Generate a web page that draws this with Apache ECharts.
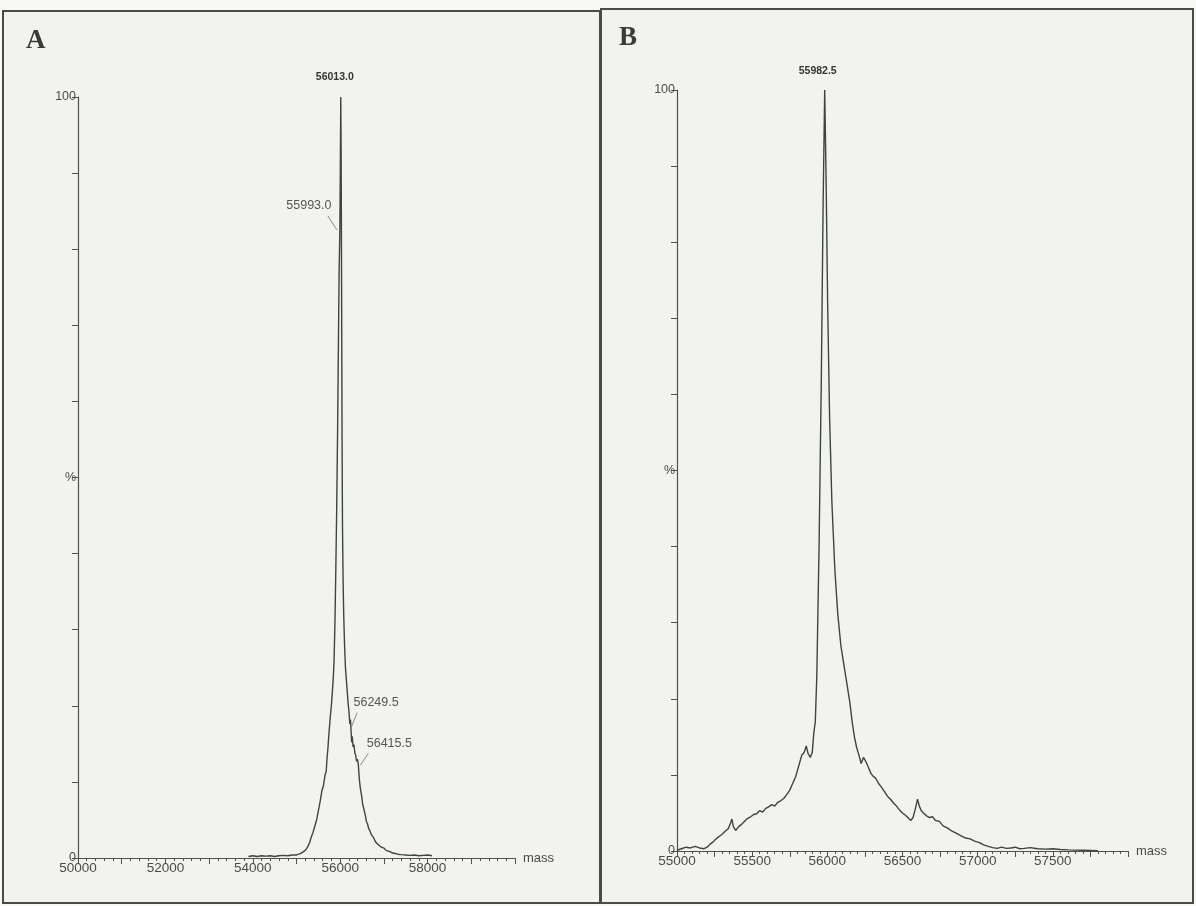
<!DOCTYPE html>
<html>
<head>
<meta charset="utf-8">
<script src="https://cdn.jsdelivr.net/npm/echarts@6/dist/echarts.min.js"></script>
<style>
  html, body { margin: 0; padding: 0; background: #f8f8f5; }
  #chart { width: 1196px; height: 906px; }
</style>
</head>
<body>
<div id="chart"></div>
<script>
// panel A spectrum (mass, % intensity)
var massA = [53900, 54000, 54100, 54200, 54300, 54400, 54500, 54600, 54700, 54800, 54900,
  55000, 55050, 55100, 55150, 55200, 55250, 55300, 55340, 55380, 55420, 55460, 55500, 55540,
  55580, 55620, 55650, 55680, 55700, 55720, 55740, 55760, 55780, 55800, 55820, 55840, 55860,
  55880, 55900, 55920, 55940, 55960, 55975, 55985, 55993, 56003, 56013, 56022, 56032, 56042,
  56052, 56065, 56080, 56100, 56120, 56140, 56160, 56180, 56200, 56220, 56235, 56249.5, 56262,
  56275, 56295, 56315, 56335, 56355, 56375, 56395, 56415.5, 56435, 56455, 56475, 56495, 56515,
  56535, 56555, 56575, 56600, 56625, 56650, 56680, 56710, 56740, 56770, 56800, 56840, 56880,
  56920, 56960, 57000, 57050, 57100, 57150, 57200, 57260, 57320, 57400, 57500, 57600, 57700,
  57800, 57900, 58000, 58100];
var intA = [0.2, 0.3, 0.2, 0.3, 0.25, 0.3, 0.2, 0.3, 0.35, 0.3, 0.4,
  0.4, 0.5, 0.6, 0.8, 1.0, 1.4, 2.0, 2.8, 3.4, 4.2, 5.0, 6.2, 7.4,
  8.8, 9.6, 10.8, 11.4, 13.2, 14.5, 16.2, 17.6, 19.0, 20.2, 21.8, 23.5, 26,
  31, 38, 46, 56, 68, 77, 80, 83, 91, 100, 92, 75, 56,
  44, 37, 32, 28, 25, 23.5, 22.0, 20.4, 19.3, 17.6, 18.2, 16.6, 15.2,
  16.0, 14.6, 14.9, 13.8, 13.5, 12.7, 13.0, 12.2, 10.6, 9.4, 8.7, 8.0, 7.0,
  6.6, 6.1, 5.6, 4.8, 4.5, 3.9, 3.6, 3.1, 2.9, 2.6, 2.2, 1.9, 1.7,
  1.5, 1.4, 1.3, 1.0, 0.9, 0.8, 0.65, 0.6, 0.5, 0.45, 0.4, 0.35, 0.4,
  0.3, 0.35, 0.4, 0.3];

// panel B spectrum
var massB = [55000, 55030, 55060, 55090, 55120, 55150, 55180, 55200, 55220, 55240, 55260,
  55280, 55300, 55320, 55340, 55355, 55365, 55375, 55390, 55410, 55430, 55450, 55470, 55490,
  55510, 55530, 55550, 55570, 55590, 55610, 55630, 55650, 55670, 55690, 55710, 55730, 55750,
  55770, 55790, 55810, 55830, 55845, 55860, 55872, 55887, 55900, 55910, 55920, 55930, 55945,
  55960, 55972, 55982.5, 55992, 56002, 56015, 56030, 56050, 56070, 56090, 56110, 56130, 56150,
  56165, 56180, 56195, 56210, 56225, 56240, 56255, 56275, 56290, 56305, 56320, 56340, 56360,
  56380, 56400, 56420, 56440, 56460, 56480, 56500, 56520, 56540, 56555, 56570, 56585, 56600,
  56612, 56625, 56640, 56660, 56680, 56700, 56720, 56745, 56770, 56800, 56830, 56860, 56890,
  56920, 56950, 56980, 57012, 57040, 57070, 57100, 57130, 57160, 57190, 57220, 57250, 57280,
  57310, 57350, 57400, 57450, 57500, 57550, 57600, 57700, 57800];
var intB = [0.1, 0.3, 0.5, 0.4, 0.6, 0.4, 0.3, 0.5, 0.9, 1.2, 1.6,
  1.9, 2.2, 2.6, 2.9, 3.6, 4.2, 3.2, 2.7, 3.2, 3.5, 3.9, 4.3, 4.5,
  4.8, 4.9, 5.3, 5.1, 5.6, 5.8, 6.1, 5.9, 6.4, 6.6, 6.9, 7.4, 8.0,
  8.9, 9.8, 11.2, 12.6, 12.9, 13.8, 12.8, 12.3, 13.0, 15.5, 17, 23, 40,
  62, 85, 100, 88, 72, 57, 46, 37, 31, 27, 24.5, 22, 19.5,
  17.0, 15.0, 13.6, 12.6, 11.5, 12.3, 11.8, 10.9, 10.2, 9.8, 9.6, 8.9, 8.4,
  7.8, 7.2, 6.8, 6.3, 5.9, 5.4, 5.0, 4.7, 4.3, 4.0, 4.4, 5.5, 6.8,
  5.9, 5.3, 5.0, 4.6, 4.4, 4.5, 4.0, 3.9, 3.3, 3.0, 2.6, 2.3, 2.0,
  1.7, 1.6, 1.3, 1.1, 0.8, 0.6, 0.45, 0.35, 0.5, 0.35, 0.4, 0.5, 0.3,
  0.35, 0.45, 0.3, 0.25, 0.3, 0.2, 0.15, 0.1, 0.05];

// peak annotations
var annoMassA = [56013.0, 55993.0, 56249.5, 56415.5];
var annoIntA = [100, 82, 16.6, 12.2];
var annoTextA = ['56013.0', '55993.0', '56249.5', '56415.5'];
var annoMassB = [55982.5];
var annoIntB = [100];
var annoTextB = ['55982.5'];

// x tick labels
var ticksA = [50000, 52000, 54000, 56000, 58000];
var ticksB = [55000, 55500, 56000, 56500, 57000, 57500];

function pairs(xs, ys) {
  return xs.map(function (x, i) { return [x, ys[i]]; });
}

var chart = echarts.init(document.getElementById('chart'));
var lineCol = '#3c463b';
var axisCol = '#505050';
var txtCol = '#4a4a4a';

function xAxis(idx, min, max, step, ticks) {
  return {
    type: 'value', gridIndex: idx, min: min, max: max, interval: step,
    name: 'mass', nameLocation: 'end', nameGap: 8,
    nameTextStyle: { color: txtCol, fontSize: 13, fontFamily: 'Liberation Sans' },
    axisLine: { show: true, lineStyle: { color: axisCol, width: 1.2 } },
    axisTick: { show: true, length: 6, lineStyle: { color: axisCol } },
    minorTick: { show: true, splitNumber: 5, length: 3, lineStyle: { color: axisCol } },
    axisLabel: {
      color: txtCol, fontSize: 13.5, fontFamily: 'Liberation Sans', margin: 3,
      showMinLabel: true, showMaxLabel: false,
      formatter: function (v) { return ticks.indexOf(v) >= 0 ? String(v) : ''; }
    },
    splitLine: { show: false }
  };
}

function yAxis(idx) {
  return {
    type: 'value', gridIndex: idx, min: 0, max: 100, interval: 10,
    axisLine: { show: true, lineStyle: { color: axisCol, width: 1.2 } },
    axisTick: { show: true, length: 6, lineStyle: { color: axisCol } },
    axisLabel: {
      color: txtCol, fontSize: 12.5, fontFamily: 'Liberation Sans', margin: 2,
      formatter: function (v) { return v === 100 ? '100' : v === 50 ? '%' : v === 0 ? '0' : ''; }
    },
    splitLine: { show: false }
  };
}

// label placement relative to the anchor: [textDx, textDy, lineX, lineY, lineEndX, lineEndY]
var placeA = [[-6, -20], [-31, -28, -12, -18, -3, -4], [25, -29, 6, -19, 0, -4], [31, -22, 10, -12, 2, 0]];
var placeB = [[-7, -19]];

function annoSeries(idx, ms, vs, txt, place) {
  return {
    type: 'custom', xAxisIndex: idx, yAxisIndex: idx, z: 5, silent: true,
    data: pairs(ms, vs),
    renderItem: function (params, api) {
      var i = params.dataIndex;
      var pt = api.coord([api.value(0), api.value(1)]);
      var p = place[i];
      var top = p.length === 2;
      var kids = [{
        type: 'text',
        style: {
          x: pt[0] + p[0], y: pt[1] + p[1], text: txt[i],
          align: 'center', verticalAlign: 'middle',
          font: top ? 'bold 10.5px "Liberation Sans Narrow", "Liberation Sans"' : '12.5px "Liberation Sans"',
          fill: top ? '#333' : '#555'
        }
      }];
      if (!top) {
        kids.push({
          type: 'line',
          shape: { x1: pt[0] + p[2], y1: pt[1] + p[3], x2: pt[0] + p[4], y2: pt[1] + p[5] },
          style: { stroke: '#8a8a8a', lineWidth: 1 }
        });
      }
      return { type: 'group', children: kids };
    }
  };
}

var option = {
  backgroundColor: '#f8f8f5',
  animation: false,
  graphic: [
    { type: 'rect', z: -10, shape: { x: 3, y: 11, width: 597, height: 892 },
      style: { fill: '#f2f3ef', stroke: '#4a4a4a', lineWidth: 2 } },
    { type: 'rect', z: -10, shape: { x: 601, y: 9, width: 592, height: 894 },
      style: { fill: '#f2f3ef', stroke: '#4a4a4a', lineWidth: 2 } },
    { type: 'text', left: 26, top: 28, z: 10,
      style: { text: 'A', font: 'bold 27px "Liberation Serif"', fill: '#3a3a3a' } },
    { type: 'text', left: 619, top: 25, z: 10,
      style: { text: 'B', font: 'bold 27px "Liberation Serif"', fill: '#3a3a3a' } }
  ],
  grid: [
    { left: 78, top: 97, width: 437, height: 761 },
    { left: 677, top: 90, width: 451, height: 761 }
  ],
  xAxis: [xAxis(0, 50000, 60000, 1000, ticksA), xAxis(1, 55000, 58000, 250, ticksB)],
  yAxis: [yAxis(0), yAxis(1)],
  series: [
    { type: 'line', xAxisIndex: 0, yAxisIndex: 0, data: pairs(massA, intA), showSymbol: false,
      lineStyle: { color: lineCol, width: 1.4 } },
    { type: 'line', xAxisIndex: 1, yAxisIndex: 1, data: pairs(massB, intB), showSymbol: false,
      lineStyle: { color: lineCol, width: 1.4 } },
    annoSeries(0, annoMassA, annoIntA, annoTextA, placeA),
    annoSeries(1, annoMassB, annoIntB, annoTextB, placeB)
  ]
};

chart.setOption(option);
</script>
</body>
</html>
